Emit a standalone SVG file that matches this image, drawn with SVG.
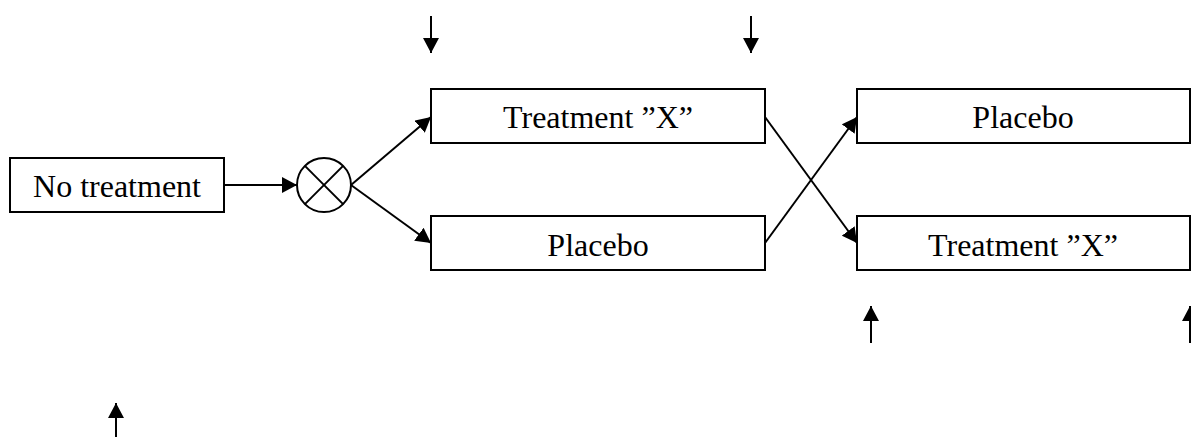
<svg xmlns="http://www.w3.org/2000/svg" width="1191" height="437" viewBox="0 0 1191 437">
<style>
.box{fill:#fff;stroke:#000;stroke-width:2}
.lbl{font-family:"Liberation Serif","Times New Roman",serif;font-size:32px;fill:#000;text-anchor:middle}
.c{stroke:#000;stroke-width:2;fill:none;marker-end:url(#ah)}
</style>
<defs>
<marker id="ah" markerUnits="userSpaceOnUse" markerWidth="15" markerHeight="16" refX="15" refY="8" orient="auto">
<path d="M0,0 L15,8 L0,16 z" fill="#000"/>
</marker>
</defs>
<rect width="1191" height="437" fill="#fff"/>
<g id="connectors">
<line class="c" x1="224" y1="185" x2="297" y2="185"/>
<line class="c" x1="351" y1="185" x2="431" y2="117"/>
<line class="c" x1="351" y1="185" x2="431" y2="243"/>
<line class="c" x1="765" y1="117" x2="857" y2="243"/>
<line class="c" x1="765" y1="243" x2="857" y2="117"/>
<line class="c" x1="431" y1="16" x2="431" y2="53"/>
<line class="c" x1="751" y1="16" x2="751" y2="53"/>
<line class="c" x1="871" y1="343" x2="871" y2="306"/>
<line class="c" x1="1190" y1="343" x2="1190" y2="306"/>
<line class="c" x1="116" y1="438" x2="116" y2="403"/>
</g>
<g id="no-treatment">
<rect class="box" x="10" y="158" width="214" height="54"/>
<text class="lbl" x="117" y="197">No treatment</text>
</g>
<g id="randomize">
<circle cx="324" cy="185" r="27" fill="#fff" stroke="#000" stroke-width="2"/>
<line x1="304.9" y1="165.9" x2="343.1" y2="204.1" stroke="#000" stroke-width="2"/>
<line x1="343.1" y1="165.9" x2="304.9" y2="204.1" stroke="#000" stroke-width="2"/>
</g>
<g id="treatment-x-1">
<rect class="box" x="431" y="89" width="334" height="54"/>
<text class="lbl" x="598" y="128">Treatment ”X”</text>
</g>
<g id="placebo-1">
<rect class="box" x="431" y="216" width="334" height="54"/>
<text class="lbl" x="598" y="256">Placebo</text>
</g>
<g id="placebo-2">
<rect class="box" x="857" y="89" width="333" height="54"/>
<text class="lbl" x="1023" y="128">Placebo</text>
</g>
<g id="treatment-x-2">
<rect class="box" x="857" y="216" width="333" height="54"/>
<text class="lbl" x="1023" y="256">Treatment ”X”</text>
</g>
</svg>
